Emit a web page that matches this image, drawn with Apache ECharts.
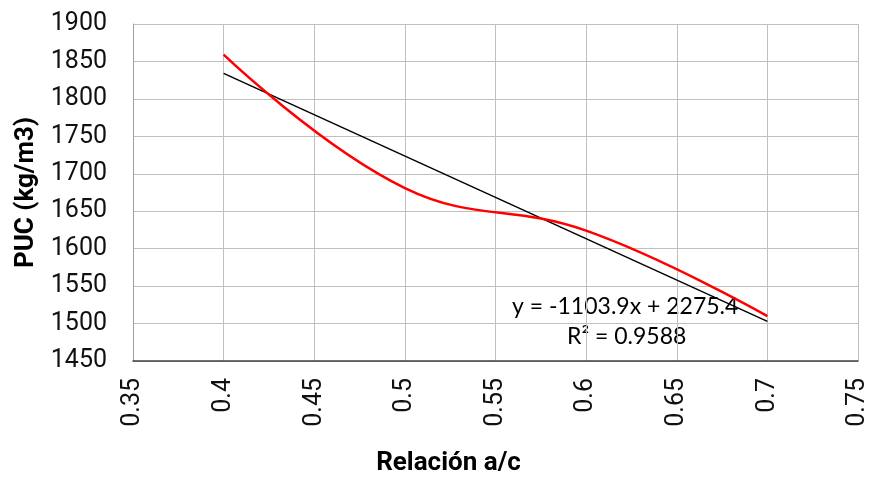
<!DOCTYPE html>
<html>
<head>
<meta charset="utf-8">
<script src="https://cdn.jsdelivr.net/npm/echarts@6/dist/echarts.min.js"></script>
<style>
html,body{margin:0;padding:0;background:#fff;}
#chart{width:872px;height:477px;}
</style>
</head>
<body>
<div id="chart"></div>
<script>
// Data
const relacionAC = [0.4, 0.5, 0.6, 0.7];
const puc = [1859, 1681, 1624, 1510];
const trendX = [0.4, 0.7];
const trendY = [1834, 1503];
const trendEquation = 'y = -1103.9x + 2275.4';
const trendR2 = 'R² = 0.9588';
const xTitle = 'Relación a/c';
const yTitle = 'PUC (kg/m3)';

const chart = echarts.init(document.getElementById('chart'), null, {renderer: 'canvas'});
const option = {
  animation: false,
  backgroundColor: '#ffffff',
  grid: {left: 133, right: 14, top: 24, bottom: 116, containLabel: false, outerBoundsMode: 'none'},
  xAxis: {
    type: 'value', min: 0.35, max: 0.75, interval: 0.05,
    name: xTitle, nameLocation: 'middle', nameGap: 89,
    nameTextStyle: {fontFamily: 'Roboto', fontWeight: 'bold', fontSize: 26, color: '#000', padding: [0, 94, 0, 0]},
    axisLine: {show: true, lineStyle: {color: '#404040', width: 1.5}},
    axisTick: {show: false},
    splitLine: {show: true, lineStyle: {color: '#bfbfbf', width: 1}},
    axisLabel: {rotate: 90, margin: 17, fontFamily: 'Roboto', fontSize: 25, color: '#111',
      formatter: v => String(+v.toFixed(2))}
  },
  yAxis: {
    type: 'value', min: 1450, max: 1900, interval: 50,
    name: yTitle, nameLocation: 'middle', nameGap: 94,
    nameTextStyle: {fontFamily: 'Roboto', fontWeight: 'bold', fontSize: 26, color: '#000'},
    axisLine: {show: true, lineStyle: {color: '#a0a0a0', width: 1}},
    axisTick: {show: false},
    splitLine: {show: true, lineStyle: {color: '#bfbfbf', width: 1}},
    axisLabel: {margin: 26, fontFamily: 'Roboto', fontSize: 25, color: '#111',
      formatter: v => String(v)}
  },
  series: [
    {
      type: 'line', name: 'PUC',
      data: relacionAC.map((x, i) => [x, puc[i]]),
      smooth: 0.42, showSymbol: false,
      lineStyle: {color: '#ff0000', width: 2.5}, z: 3
    },
    {
      type: 'line', name: 'Lineal',
      data: trendX.map((x, i) => [x, trendY[i]]),
      showSymbol: false,
      lineStyle: {color: '#000000', width: 1.5}, z: 2
    }
  ],
  graphic: [
    {type: 'text', left: 512, top: 295, style: {text: trendEquation, font: '23px Lato', fill: '#000'}},
    {type: 'text', left: 567, top: 325, style: {text: trendR2, font: '23px Lato', fill: '#000'}}
  ]
};
chart.setOption(option);
</script>
</body>
</html>
